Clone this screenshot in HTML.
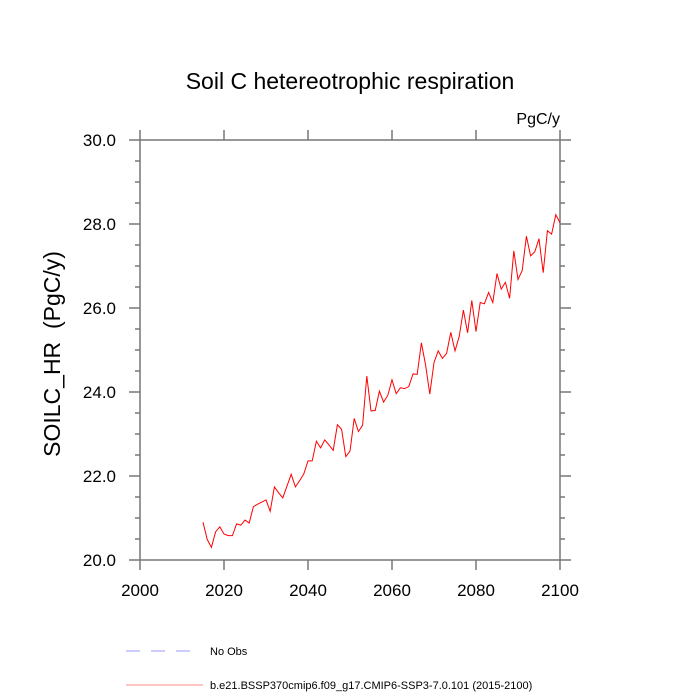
<!DOCTYPE html>
<html><head><meta charset="utf-8"><style>body{margin:0;background:#fff}svg{display:block}text{font-family:"Liberation Sans",sans-serif}</style></head>
<body>
<svg id="chart" width="700" height="700" xmlns="http://www.w3.org/2000/svg">
<rect width="700" height="700" fill="#fff"/>
<text x="350" y="89" text-anchor="middle" font-size="23">Soil C hetereotrophic respiration</text>
<text x="560" y="124" text-anchor="end" font-size="16">PgC/y</text>
<text transform="translate(60,354) rotate(-90)" text-anchor="middle" font-size="23">SOILC_HR&#160;&#160;(PgC/y)</text>
<g id="axes"></g>
<polyline id="series" fill="none" stroke="#ff0000" stroke-width="1"/>
<line x1="126" y1="651" x2="200" y2="651" stroke="#9999ff" stroke-dasharray="14,11"/>
<text x="210" y="655" font-size="11">No Obs</text>
<line x1="126" y1="685" x2="203" y2="685" stroke="#ff8888"/>
<text x="210" y="689" font-size="11">b.e21.BSSP370cmip6.f09_g17.CMIP6-SSP3-7.0.101 (2015-2100)</text>
</svg>
<script>
const startYear = 2015;
const values = [20.90,20.49,20.30,20.67,20.79,20.62,20.58,20.58,20.86,20.83,20.95,20.88,21.27,21.33,21.38,21.43,21.16,21.74,21.60,21.48,21.76,22.04,21.74,21.89,22.05,22.36,22.36,22.83,22.67,22.86,22.74,22.61,23.22,23.11,22.46,22.59,23.37,23.06,23.21,24.38,23.55,23.56,24.02,23.76,23.92,24.29,23.96,24.10,24.08,24.13,24.43,24.42,25.17,24.64,23.95,24.70,24.98,24.80,24.92,25.42,24.98,25.32,25.95,25.41,26.18,25.44,26.13,26.10,26.37,26.13,26.82,26.45,26.61,26.23,27.36,26.68,26.89,27.71,27.24,27.34,27.65,26.84,27.84,27.76,28.22,28.03];
const xTicks = [2000,2020,2040,2060,2080,2100];
const yTicks = [20,22,24,26,28,30];
const xMin=2000,xMax=2100,yMin=20,yMax=30;
const L=140,R=560,T=140,B=560;
const sx=v=>L+(v-xMin)/(xMax-xMin)*(R-L);
const sy=v=>B-(v-yMin)/(yMax-yMin)*(B-T);
const NS="http://www.w3.org/2000/svg";
const ax=document.getElementById('axes');
function ln(x1,y1,x2,y2,name){const e=document.createElementNS(NS,'line');e.setAttribute('x1',x1);e.setAttribute('y1',y1);e.setAttribute('x2',x2);e.setAttribute('y2',y2);e.setAttribute('stroke','#777');e.setAttribute('stroke-width','1.5');


ax.appendChild(e);}
function tx(x,y,s,anchor,name){const e=document.createElementNS(NS,'text');e.setAttribute('x',x);e.setAttribute('y',y);e.setAttribute('font-size','17');e.setAttribute('text-anchor',anchor);e.textContent=s;


ax.appendChild(e);}
ln(L,T,R,T,'plot-frame-top');ln(L,B,R,B,'plot-frame-bottom');ln(L,T,L,B,'plot-frame-left');ln(R,T,R,B,'plot-frame-right');
xTicks.forEach(v=>{const x=sx(v);ln(x,B,x,B+10,'x-tick');ln(x,T,x,T-10,'x-tick-top');});
for(let v=yMin;v<=yMax+1e-9;v+=0.5){const major=yTicks.some(t=>Math.abs(t-v)<1e-9);const len=major?11:5;const y=sy(v);
ln(L,y,L-len,y,'y-tick');ln(R,y,R+len,y,'y-tick-right');}
xTicks.forEach(v=>tx(sx(v),B+36,String(v),'middle','x-tick-label'));
yTicks.forEach(v=>tx(L-24,sy(v)+6,v.toFixed(1),'end','y-tick-label'));
document.getElementById('series').setAttribute('points',values.map((v,i)=>sx(startYear+i)+','+sy(v)).join(' '));
</script>
</body></html>
